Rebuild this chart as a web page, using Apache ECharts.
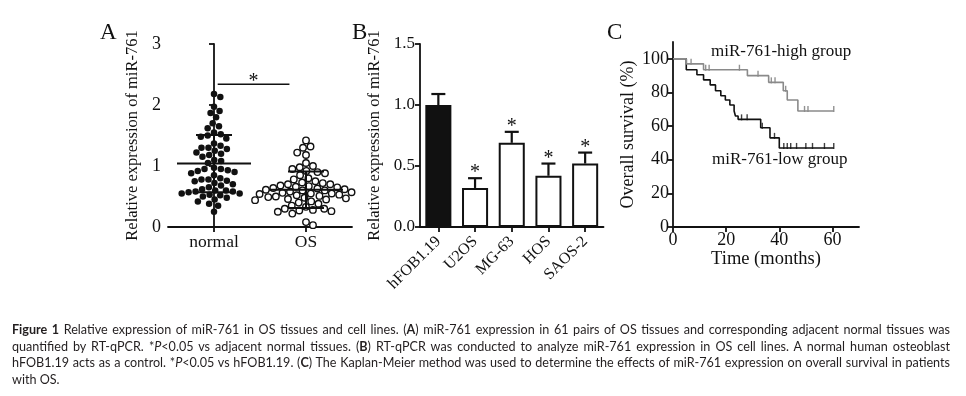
<!DOCTYPE html>
<html>
<head>
<meta charset="utf-8">
<script src="https://cdn.jsdelivr.net/npm/echarts@6/dist/echarts.min.js"></script>
<style>
html,body{margin:0;padding:0;background:#fff}
#main{position:absolute;left:0;top:0;width:966px;height:396px}
#cap{position:absolute;left:12px;top:322px;width:938px;font-family:Lato,'Open Sans',sans-serif;font-size:12.6px;line-height:16.7px;color:#231f20}
#cap div{text-align:justify;text-align-last:justify;white-space:nowrap}
#cap div.last{text-align-last:left}
</style>
</head>
<body>
<div id="main"></div>
<div id="cap">
<div><b>Figure 1</b> Relative expression of miR-761 in OS tissues and cell lines. (<b>A</b>) miR-761 expression in 61 pairs of OS tissues and corresponding adjacent normal tissues was</div>
<div>quantified by RT-qPCR. *<i>P</i>&lt;0.05 vs adjacent normal tissues. (<b>B</b>) RT-qPCR was conducted to analyze miR-761 expression in OS cell lines. A normal human osteoblast</div>
<div>hFOB1.19 acts as a control. *<i>P</i>&lt;0.05 vs hFOB1.19. (<b>C</b>) The Kaplan-Meier method was used to determine the effects of miR-761 expression on overall survival in patients</div>
<div class="last">with OS.</div>
</div>
<script>
// ---- panel A : tissues ----
var groupsA = ['normal', 'OS'];
var normalVals = [2.18,2.13,1.97,1.90,1.87,1.80,1.70,1.65,1.62,1.55,1.52,1.50,1.48,1.45,1.37,1.33,1.30,1.30,1.28,1.25,
  1.22,1.20,1.18,1.15,1.10,1.08,1.05,0.97,0.95,0.95,0.93,0.92,0.90,0.88,0.85,0.80,0.78,0.78,0.76,0.75,
  0.72,0.70,0.68,0.65,0.62,0.60,0.60,0.58,0.58,0.57,0.55,0.55,0.53,0.52,0.50,0.48,0.45,0.42,0.38,0.35,0.25];
var osVals = [1.42,1.32,1.30,1.22,1.18,1.05,1.00,0.98,0.95,0.92,0.90,0.88,0.85,0.80,0.78,0.75,0.73,0.72,0.70,0.70,
  0.68,0.67,0.66,0.65,0.64,0.63,0.62,0.61,0.60,0.60,0.58,0.57,0.56,0.55,0.55,0.54,0.53,0.52,0.51,0.50,
  0.50,0.49,0.48,0.47,0.46,0.45,0.44,0.42,0.40,0.38,0.35,0.33,0.30,0.30,0.28,0.27,0.26,0.25,0.22,0.08,0.03];
// mean, mean-SD, mean+SD
var normalStats = [1.04, 0.57, 1.51];
var osStats = [0.61, 0.31, 0.91];

// ---- panel B : cell lines ----
var cellLines = ['hFOB1.19', 'U2OS', 'MG-63', 'HOS', 'SAOS-2'];
var cellMeans = [1.00, 0.32, 0.69, 0.42, 0.52];
var cellErrTop = [1.09, 0.40, 0.78, 0.52, 0.61];
var cellSig = [0, 1, 1, 1, 1];

// ---- panel C : Kaplan-Meier ----
var highT = [0, 5, 11.5, 28, 36, 41.5, 43, 47, 60.5];
var highS = [100, 97, 93.5, 90, 86, 81, 75.5, 69, 69];
var highCensT = [6.8, 12.3, 13.6, 25, 32, 37, 38.4, 42.4, 49.5, 50.8, 60.5];
var highCensS = [97, 93.5, 93.5, 93.5, 90, 86, 86, 81, 69, 69, 69];
var lowT = [0, 5, 9, 11.5, 14, 16, 18, 19.7, 21.4, 23, 23.5, 24.5, 33, 36.5, 40, 60.5];
var lowS = [100, 93.5, 90.5, 87.5, 84.5, 81, 78, 75.5, 72.5, 69, 66, 64, 59, 53, 47, 47];
var lowCensT = [25.8, 27.9, 33.6, 38.2, 41.7, 43, 44.3, 46.5, 50, 52.5, 57, 60.5];
var lowCensS = [64, 64, 59, 53, 47, 47, 47, 47, 47, 47, 47, 47];
var timeTicks = [0, 20, 40, 60];
var survTicks = [0, 20, 40, 60, 80, 100];

var INK = '#111';
var SERIF = "'Liberation Serif','Times New Roman',serif";
var gridA = {left: 168, top: 44, width: 184, height: 183};
var gridB = {left: 420, top: 44, width: 183.5, height: 183};
var gridC = {left: 673, top: 42, width: 186, height: 185};

// simple beeswarm: spread points sideways so they don't overlap
function swarm(vals, center, diam) {
  var pxY = gridA.height / 3, pxX = gridA.width / 2;
  var placed = [], out = [];
  vals.slice().sort(function (a, b) { return b - a; }).forEach(function (v) {
    var y = v * pxY, cands = [0];
    placed.forEach(function (p) {
      var dy = y - p.y;
      if (Math.abs(dy) < diam) {
        var dx = Math.sqrt(diam * diam - dy * dy);
        cands.push(p.x + dx, p.x - dx);
      }
    });
    cands.sort(function (a, b) { return Math.abs(a) - Math.abs(b); });
    var x = 0;
    for (var i = 0; i < cands.length; i++) {
      var ok = placed.every(function (p) {
        var ddx = p.x - cands[i], ddy = p.y - y;
        return ddx * ddx + ddy * ddy >= diam * diam - 0.01;
      });
      if (ok) { x = cands[i]; break; }
    }
    placed.push({x: x, y: y});
    out.push([center + x / pxX, v]);
  });
  return out;
}

function pairs(a, b) { return a.map(function (t, i) { return [t, b[i]]; }); }

function axisBase(extra) {
  var o = {
    axisLine: {show: true, lineStyle: {color: INK, width: 1.8}},
    axisTick: {show: true, length: 5, lineStyle: {color: INK, width: 1.8}},
    axisLabel: {color: INK, fontFamily: SERIF, fontSize: 17},
    splitLine: {show: false},
    nameTextStyle: {color: INK, fontFamily: SERIF, fontSize: 16.5}
  };
  for (var k in extra) o[k] = extra[k];
  return o;
}

var chart = echarts.init(document.getElementById('main'));
chart.setOption({
  animation: false,
  backgroundColor: '#fff',
  grid: [gridA, gridB, gridC],
  xAxis: [
    axisBase({type: 'category', gridIndex: 0, data: groupsA, boundaryGap: true,
      axisTick: {show: true, alignWithLabel: true, length: 5, lineStyle: {color: INK, width: 1.8}},
      axisLabel: {color: INK, fontFamily: SERIF, fontSize: 17.5, margin: 6}}),
    {type: 'value', gridIndex: 0, min: -0.5, max: 1.5, show: false},
    axisBase({type: 'category', gridIndex: 1, data: cellLines, boundaryGap: true,
      axisTick: {show: true, alignWithLabel: true, length: 5, lineStyle: {color: INK, width: 1.8}},
      axisLabel: {color: INK, fontFamily: SERIF, fontSize: 16, rotate: 45, margin: 12, interval: 0}}),
    axisBase({type: 'value', gridIndex: 2, min: 0, max: 70,
      axisTick: {show: true, length: 5, customValues: timeTicks, lineStyle: {color: INK, width: 1.8}},
      axisLabel: {color: INK, fontFamily: SERIF, fontSize: 18, margin: 4, customValues: timeTicks},
      name: 'Time (months)', nameLocation: 'middle', nameGap: 17,
      nameTextStyle: {color: INK, fontFamily: SERIF, fontSize: 18.5}})
  ],
  yAxis: [
    axisBase({type: 'value', gridIndex: 0, min: 0, max: 3, interval: 1,
      axisLabel: {color: INK, fontFamily: SERIF, fontSize: 18, margin: 7},
      name: 'Relative expression of miR-761', nameLocation: 'middle', nameGap: 27}),
    axisBase({type: 'value', gridIndex: 1, min: 0, max: 1.5, interval: 0.5,
      axisLabel: {color: INK, fontFamily: SERIF, fontSize: 17, margin: 5,
        formatter: function (v) { return v.toFixed(1); }},
      name: 'Relative expression of miR-761', nameLocation: 'middle', nameGap: 37}),
    axisBase({type: 'value', gridIndex: 2, min: 0, max: 110,
      axisTick: {show: true, length: 5, customValues: survTicks, lineStyle: {color: INK, width: 1.8}},
      axisLabel: {color: INK, fontFamily: SERIF, fontSize: 18, margin: 4, customValues: survTicks},
      name: 'Overall survival (%)', nameLocation: 'middle', nameGap: 36,
      nameTextStyle: {color: INK, fontFamily: SERIF, fontSize: 18}})
  ],
  graphic: [
    {type: 'text', x: 100, y: 32.5, style: {text: 'A', font: '23px ' + SERIF, fill: INK, verticalAlign: 'middle'}},
    {type: 'text', x: 352, y: 32.5, style: {text: 'B', font: '23px ' + SERIF, fill: INK, verticalAlign: 'middle'}},
    {type: 'text', x: 607, y: 32.5, style: {text: 'C', font: '23px ' + SERIF, fill: INK, verticalAlign: 'middle'}},
    {type: 'text', x: 711, y: 52, style: {text: 'miR-761-high group', font: '17px ' + SERIF, fill: INK, verticalAlign: 'middle'}},
    {type: 'text', x: 712, y: 160, style: {text: 'miR-761-low group', font: '17px ' + SERIF, fill: INK, verticalAlign: 'middle'}}
  ],
  series: [
    // panel A dots
    {type: 'scatter', xAxisIndex: 1, yAxisIndex: 0, symbol: 'circle', symbolSize: 6.5,
      itemStyle: {color: INK, opacity: 1}, data: swarm(normalVals, 0, 7)},
    {type: 'scatter', xAxisIndex: 1, yAxisIndex: 0, symbol: 'circle', symbolSize: 6.5,
      itemStyle: {color: '#fff', borderColor: INK, borderWidth: 1.4, opacity: 1}, data: swarm(osVals, 1, 7.6)},
    // panel A mean +/- SD
    {type: 'custom', xAxisIndex: 1, yAxisIndex: 0, z: 5,
      data: [[0].concat(normalStats), [1].concat(osStats)],
      renderItem: function (params, api) {
        var x = api.value(0);
        var m = api.coord([x, api.value(1)]), lo = api.coord([x, api.value(2)]), hi = api.coord([x, api.value(3)]);
        var st = {stroke: INK, lineWidth: 2};
        return {type: 'group', children: [
          {type: 'line', shape: {x1: m[0] - 37, y1: m[1], x2: m[0] + 37, y2: m[1]}, style: st},
          {type: 'line', shape: {x1: lo[0] - 18, y1: lo[1], x2: lo[0] + 18, y2: lo[1]}, style: st},
          {type: 'line', shape: {x1: hi[0] - 18, y1: hi[1], x2: hi[0] + 18, y2: hi[1]}, style: st},
          {type: 'line', shape: {x1: lo[0], y1: lo[1], x2: hi[0], y2: hi[1]}, style: st}
        ]};
      }},
    // panel A significance bar
    {type: 'custom', xAxisIndex: 1, yAxisIndex: 0, z: 5,
      data: [[0.04, 0.82, 2.34]],
      renderItem: function (params, api) {
        var a = api.coord([api.value(0), api.value(2)]), b = api.coord([api.value(1), api.value(2)]);
        return {type: 'group', children: [
          {type: 'line', shape: {x1: a[0], y1: a[1], x2: b[0], y2: b[1]}, style: {stroke: INK, lineWidth: 1.6}},
          {type: 'text', x: (a[0] + b[0]) / 2, y: a[1] - 3,
            style: {text: '*', font: '20px ' + SERIF, fill: INK, align: 'center', verticalAlign: 'middle'}}
        ]};
      }},
    // panel B bars
    {type: 'bar', xAxisIndex: 2, yAxisIndex: 1, barWidth: '71%',
      data: cellMeans.map(function (v, i) {
        return {value: v, itemStyle: {color: i === 0 ? INK : '#fff', borderColor: INK, borderWidth: 2}};
      })},
    // panel B error bars + asterisks
    {type: 'custom', xAxisIndex: 2, yAxisIndex: 1, z: 5,
      data: cellLines.map(function (c, i) { return [i, cellMeans[i], cellErrTop[i], cellSig[i]]; }),
      renderItem: function (params, api) {
        var p0 = api.coord([api.value(0), api.value(1)]), p1 = api.coord([api.value(0), api.value(2)]);
        var st = {stroke: INK, lineWidth: 2.2};
        var ch = [
          {type: 'line', shape: {x1: p0[0], y1: p0[1], x2: p1[0], y2: p1[1]}, style: st},
          {type: 'line', shape: {x1: p1[0] - 7, y1: p1[1], x2: p1[0] + 7, y2: p1[1]}, style: st}
        ];
        if (api.value(3)) {
          ch.push({type: 'text', x: p1[0], y: p1[1] - 5,
            style: {text: '*', font: '20px ' + SERIF, fill: INK, align: 'center', verticalAlign: 'middle'}});
        }
        return {type: 'group', children: ch};
      }},
    // panel C survival curves
    {type: 'line', xAxisIndex: 3, yAxisIndex: 2, step: 'end', symbol: 'none',
      lineStyle: {color: INK, width: 1.6}, data: pairs(lowT, lowS)},
    {type: 'line', xAxisIndex: 3, yAxisIndex: 2, step: 'end', symbol: 'none',
      lineStyle: {color: '#8a8a8a', width: 1.6}, data: pairs(highT, highS)},
    {type: 'scatter', xAxisIndex: 3, yAxisIndex: 2, symbol: 'rect', symbolSize: [1.4, 6], symbolOffset: [0, -2],
      itemStyle: {color: INK}, data: pairs(lowCensT, lowCensS)},
    {type: 'scatter', xAxisIndex: 3, yAxisIndex: 2, symbol: 'rect', symbolSize: [1.4, 6], symbolOffset: [0, -2],
      itemStyle: {color: '#777'}, data: pairs(highCensT, highCensS)}
  ]
});
</script>
</body>
</html>
